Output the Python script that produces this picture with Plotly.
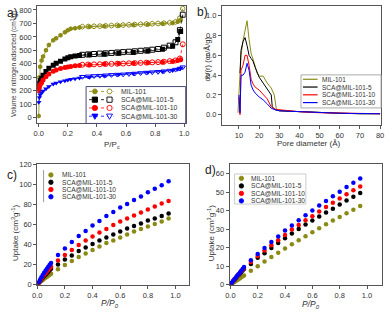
import plotly.graph_objects as go

names = ["MIL-101", "SCA@MIL-101-5", "SCA@MIL-101-10", "SCA@MIL-101-30"]
colors = ["#8a8a14", "#000000", "#ff0000", "#0000ff"]
symbols_a = ["hexagon", "square", "circle", "triangle-down"]

# ---- panel a: N2 isotherms (adsorption filled / desorption open)
ads_p = [0.0, 0.004, 0.01, 0.02, 0.03, 0.05, 0.07, 0.1, 0.12, 0.15, 0.18, 0.2, 0.22,
         0.25, 0.28, 0.35, 0.45, 0.55, 0.65, 0.75, 0.85, 0.92, 0.955, 0.975]
ads_mil = [12, 300, 378, 425, 455, 500, 540, 575, 590, 612, 635, 650, 660,
           665, 670, 675, 680, 683, 688, 692, 697, 703, 712, 725]
ads_s5 = [220, 255, 275, 290, 315, 343, 368, 390, 405, 420, 435, 445, 452,
          458, 462, 468, 472, 478, 485, 495, 508, 530, 580, 640]
ads_s10 = [200, 225, 245, 260, 280, 304, 325, 345, 355, 365, 372, 376, 380,
           385, 388, 392, 398, 402, 405, 408, 412, 418, 425, 430]
ads_s30 = [115, 150, 170, 185, 198, 215, 232, 250, 258, 267, 275, 280, 285,
           290, 294, 300, 310, 320, 327, 335, 342, 350, 360, 368]

des_p = [0.99, 0.97, 0.94, 0.9, 0.86, 0.82, 0.78, 0.74, 0.7, 0.66, 0.62, 0.58,
         0.54, 0.5, 0.46, 0.42, 0.38, 0.34, 0.3]
des_mil = [810, 740, 712, 705, 702, 700, 698, 696, 694, 692, 690, 688,
           686, 684, 682, 680, 679, 677, 676]
des_s5 = [765, 650, 560, 535, 520, 510, 505, 500, 497, 493, 490, 487,
          484, 481, 478, 476, 473, 470, 467]
des_s10 = [545, 440, 425, 420, 416, 413, 411, 409, 407, 405, 404, 402,
           401, 400, 399, 397, 396, 395, 393]
des_s30 = [375, 365, 357, 350, 345, 341, 338, 335, 332, 328, 325, 322,
           320, 318, 315, 312, 310, 307, 304]

# ---- panel b: pore size distribution
pd_mil_x = [9.5, 10.5, 11, 12, 13, 14, 15, 16, 17, 18, 19, 20, 22, 24, 26, 27.5, 28.5, 30, 35, 40, 50, 60, 70, 80]
pd_mil_y = [0.02, 0.4, 0.6, 0.75, 0.85, 0.95, 0.76, 0.62, 0.56, 0.5, 0.42, 0.39, 0.39, 0.32, 0.27, 0.2, 0.06, 0.04, 0.035, 0.03, 0.02, 0.015, 0.01, 0.01]
pd_s5_x = [10.5, 11, 12, 13, 14, 15, 16, 17, 18, 20, 22, 24, 25, 26, 26.5, 28, 30, 35, 40, 50, 60, 70, 80]
pd_s5_y = [0.42, 0.65, 0.74, 0.78, 0.7, 0.6, 0.57, 0.54, 0.48, 0.38, 0.32, 0.26, 0.23, 0.2, 0.08, 0.05, 0.04, 0.035, 0.03, 0.02, 0.015, 0.01, 0.01]
pd_s10_x = [10, 10.5, 11, 12, 13, 14, 15, 16, 17, 18, 20, 22, 24, 25, 26, 28, 30, 35, 40, 50, 60, 70, 80]
pd_s10_y = [0.18, 0.0, 0.45, 0.5, 0.6, 0.6, 0.5, 0.36, 0.31, 0.28, 0.25, 0.2, 0.16, 0.12, 0.08, 0.055, 0.05, 0.04, 0.03, 0.02, 0.015, 0.01, 0.01]
pd_s30_x = [10, 10.5, 11, 12, 13, 14, 15, 16, 17, 18, 20, 22, 24, 25, 26, 28, 30, 35, 40, 50, 60, 70, 80]
pd_s30_y = [0.2, 0.02, 0.4, 0.4, 0.43, 0.52, 0.45, 0.3, 0.25, 0.22, 0.18, 0.15, 0.11, 0.085, 0.065, 0.05, 0.04, 0.035, 0.03, 0.02, 0.015, 0.012, 0.01]

# ---- panels c/d: gas uptake
up_p = [0.01, 0.02, 0.03, 0.04, 0.05, 0.06, 0.07, 0.08, 0.09, 0.1, 0.15, 0.2, 0.25, 0.3,
        0.35, 0.4, 0.45, 0.5, 0.55, 0.6, 0.65, 0.7, 0.75, 0.8, 0.85, 0.9, 0.95]
c_mil = [1.2, 2.4, 3.6, 4.7, 5.8, 6.9, 8.0, 9.0, 10.0, 11.0, 15.5, 19.5, 23.5, 27.5,
         31, 34.5, 38, 41.5, 44, 47, 50, 53, 55.5, 58, 60.5, 63, 66]
c_s5 = [1.8, 3.5, 5.2, 6.8, 8.4, 10.0, 11.5, 13.0, 14.5, 16.0, 20, 25, 29, 33.5,
        37, 40.5, 44, 47, 50, 53, 56, 58.5, 61, 64, 66, 68.5, 71]
c_s10 = [2.0, 4.0, 5.9, 7.8, 9.6, 11.3, 13.0, 14.7, 16.4, 18.0, 24, 29.5, 34.5, 39.5,
         44, 48, 52, 55.5, 59.5, 63, 66, 69, 72, 75, 78, 81, 83.5]
c_s30 = [2.5, 5.0, 7.4, 9.7, 11.9, 14.0, 16.0, 18.0, 19.9, 21.5, 29.5, 36, 42.5, 48.5,
         53.5, 59, 63.5, 68.5, 72.5, 77, 80.5, 84.5, 88, 92, 95.5, 99, 103]

d_mil = [0.5, 1.0, 1.5, 2.0, 2.5, 3.0, 3.5, 4.0, 4.5, 5.0, 7.5, 10, 12.5, 15,
         17.2, 19.5, 21.8, 24, 26.2, 28.3, 30.5, 32.6, 34.7, 36.6, 38.6, 40.5, 42.5]
d_s5 = [0.9, 1.8, 2.7, 3.6, 4.4, 5.2, 6.0, 6.9, 7.7, 8.5, 11.2, 14.5, 17, 19.8,
        22.5, 25, 27.6, 30, 32.5, 34.6, 36.8, 39, 41, 43.3, 45.4, 47.5, 49.5]
d_s10 = [1.0, 1.9, 2.8, 3.7, 4.6, 5.5, 6.4, 7.3, 8.2, 9.0, 12.3, 15.5, 18.5, 21.3,
         24, 26.8, 29.8, 32.2, 34.8, 37, 39.5, 42, 44.2, 46.5, 48.8, 51, 53]
d_s30 = [1.0, 2.0, 3.0, 3.9, 4.8, 5.7, 6.6, 7.5, 8.5, 9.5, 13.2, 16.5, 19.8, 23,
         26, 29.2, 32, 34.8, 37.5, 40, 42.7, 45.2, 47.7, 50.2, 52.7, 55, 57.3]

FONT = "Liberation Sans, Arial, sans-serif"
TXT = "#333"
W, H = 389, 313
fig = go.Figure()

ads = [ads_mil, ads_s5, ads_s10, ads_s30]
des = [des_mil, des_s5, des_s10, des_s30]
for i in range(4):
    fig.add_trace(go.Scatter(x=ads_p, y=ads[i], mode="lines+markers", name=names[i],
                             line=dict(color=colors[i], width=0.8),
                             marker=dict(symbol=symbols_a[i], size=5, color=colors[i]),
                             xaxis="x", yaxis="y"))
    fig.add_trace(go.Scatter(x=des_p, y=des[i], mode="lines+markers", name=names[i],
                             line=dict(color=colors[i], width=0.8, dash="dot"),
                             marker=dict(symbol=symbols_a[i] + "-open", size=5, color=colors[i]),
                             xaxis="x", yaxis="y"))

pdx = [pd_mil_x, pd_s5_x, pd_s10_x, pd_s30_x]
pdy = [pd_mil_y, pd_s5_y, pd_s10_y, pd_s30_y]
for i in range(4):
    fig.add_trace(go.Scatter(x=pdx[i], y=pdy[i], mode="lines", name=names[i],
                             line=dict(color=colors[i], width=1),
                             xaxis="x2", yaxis="y2"))

cs = [c_mil, c_s5, c_s10, c_s30]
ds = [d_mil, d_s5, d_s10, d_s30]
for i in range(4):
    fig.add_trace(go.Scatter(x=up_p, y=cs[i], mode="markers", name=names[i],
                             marker=dict(size=4.5, color=colors[i]),
                             xaxis="x3", yaxis="y3"))
for i in range(4):
    fig.add_trace(go.Scatter(x=up_p, y=ds[i], mode="markers", name=names[i],
                             marker=dict(size=4.5, color=colors[i]),
                             xaxis="x4", yaxis="y4"))


def dx(a, b):
    return [a / W, b / W]


def dy(top, bot):
    return [1 - bot / H, 1 - top / H]


ax = dict(showline=True, linecolor="#555", linewidth=1, mirror=True, ticks="outside",
          ticklen=3, tickcolor="#555", tickfont=dict(size=7.5, color=TXT, family=FONT),
          showgrid=False, zeroline=False)

fig.update_layout(
    width=W, height=H, margin=dict(l=0, r=0, t=0, b=0, pad=0),
    paper_bgcolor="white", plot_bgcolor="white", showlegend=False,
    xaxis=dict(ax, domain=dx(33, 185), range=[-0.01, 1.01], dtick=0.2, tickformat=".1f", anchor="y"),
    yaxis=dict(ax, domain=dy(2, 123), range=[-43, 830], dtick=100, anchor="x"),
    xaxis2=dict(ax, domain=dx(222, 385), range=[1.5, 80.5], tick0=10, dtick=10, anchor="y2"),
    yaxis2=dict(ax, domain=dy(2, 125), range=[-0.108, 1.1], dtick=0.2, tickformat=".1f", anchor="x2"),
    xaxis3=dict(ax, domain=dx(33, 188), range=[0, 1.095], dtick=0.2, tickformat=".1f", anchor="y3"),
    yaxis3=dict(ax, domain=dy(165, 289), range=[0, 120], dtick=20, anchor="x3"),
    xaxis4=dict(ax, domain=dx(230, 386), range=[-0.005, 1.11], dtick=0.2, tickformat=".1f", anchor="y4"),
    yaxis4=dict(ax, domain=dy(165, 289), range=[0, 65], dtick=10, anchor="x4"),
)


def text(t, x, y, size=8, xanchor="center", angle=0, color=TXT):
    fig.add_annotation(text=t, x=x / W, y=1 - y / H, xref="paper", yref="paper",
                       xanchor=xanchor, yanchor="middle", showarrow=False, textangle=angle,
                       font=dict(size=size, color=color, family=FONT))


# panel letters
for t, x, y in [("a)", 0, 9), ("b)", 195, 8), ("c)", 0, 176), ("d)", 203, 171)]:
    text(t, x, y, size=12, xanchor="left", color="#222")

# axis titles
text("P/P<sub>c</sub>", 110, 145, 8)
text("Volume of nitrogen adsorbed (cm<sup>3</sup>/g)", 9, 62, 6.5, angle=-90)
text("Pore diameter (Å)", 311, 144, 8)
text("dV(r) (cc/Å/g)", 207, 57, 7.5, angle=-90)
text("<i>P/P<sub>0</sub></i>", 107, 308, 8.5)
text("Uptake (cm<sup>3</sup>g<sup>-1</sup>)", 10, 236, 8, angle=-90)
text("<i>P/P<sub>0</sub></i>", 313, 309.5, 8.5)
text("Uptake (cm<sup>3</sup>g<sup>-1</sup>)", 211, 236, 8, angle=-90)


# ---- hand-drawn legend keys (pixel placed)
def marker(kind, cx, cy, color, filled=True, r=2.6):
    common = dict(xref="paper", yref="paper", xsizemode="pixel", ysizemode="pixel",
                  xanchor=cx / W, yanchor=1 - cy / H,
                  line=dict(color=color, width=0.9),
                  fillcolor=color if filled else "white")
    if kind == "circle":
        fig.add_shape(type="circle", x0=-r, x1=r, y0=-r, y1=r, **common)
    elif kind == "square":
        fig.add_shape(type="rect", x0=-r, x1=r, y0=-r, y1=r, **common)
    elif kind == "triangle-down":
        fig.add_shape(type="path", path=f"M{-r*1.15},{r*0.8} L{r*1.15},{r*0.8} L0,{-r*1.2} Z", **common)
    elif kind == "hexagon":
        h = r * 0.87
        fig.add_shape(type="path",
                      path=f"M{r},0 L{r/2},{h} L{-r/2},{h} L{-r},0 L{-r/2},{-h} L{r/2},{-h} Z",
                      **common)


def hline(x0, x1, y, color, width=1, dash="solid"):
    fig.add_shape(type="line", xref="paper", yref="paper", x0=x0 / W, x1=x1 / W,
                  y0=1 - y / H, y1=1 - y / H, line=dict(color=color, width=width, dash=dash))


def box(x0, y0, x1, y1, color):
    fig.add_shape(type="rect", xref="paper", yref="paper", x0=x0 / W, x1=x1 / W,
                  y0=1 - y1 / H, y1=1 - y0 / H, line=dict(color=color, width=1),
                  fillcolor="rgba(255,255,255,0)")


# panel a legend
box(83, 85, 185, 123, "#4a4a7a")
ya = [90, 98.5, 107, 115.5]
for i in range(4):
    hline(86, 111, ya[i], colors[i], 0.8, "dot")
    marker(symbols_a[i], 92, ya[i], colors[i], True)
    marker(symbols_a[i], 107, ya[i], colors[i], False)
    text(names[i], 117, ya[i], 6.9, xanchor="left")

# panel b legend
box(303, 73, 385, 107, "#aaaaaa")
yb = [77.5, 85.5, 93.5, 101.5]
for i in range(4):
    hline(305, 320, yb[i], colors[i], 1.2)
    text(names[i], 322, yb[i], 6.5, xanchor="left")

# panel c legend
fig.add_shape(type="line", xref="paper", yref="paper", x0=39.5 / W, x1=39.5 / W,
              y0=1 - 204 / H, y1=1 - 171 / H, line=dict(color="#999", width=1))
yc = [176, 183.5, 191, 198.5]
for i in range(4):
    marker("circle", 47, yc[i], colors[i], True, 2.2)
    text(names[i], 56, yc[i], 6.6, xanchor="left")

# panel d legend
box(235, 175, 308, 206, "#cccccc")
yd = [179.5, 187.3, 195, 202.7]
for i in range(4):
    marker("circle", 242, yd[i], colors[i], True, 2.2)
    text(names[i], 250, yd[i], 6.6, xanchor="left")

fig.write_html("out.html", config={"displayModeBar": False},
               post_script="document.body.style.margin='0';document.body.style.padding='0';")
